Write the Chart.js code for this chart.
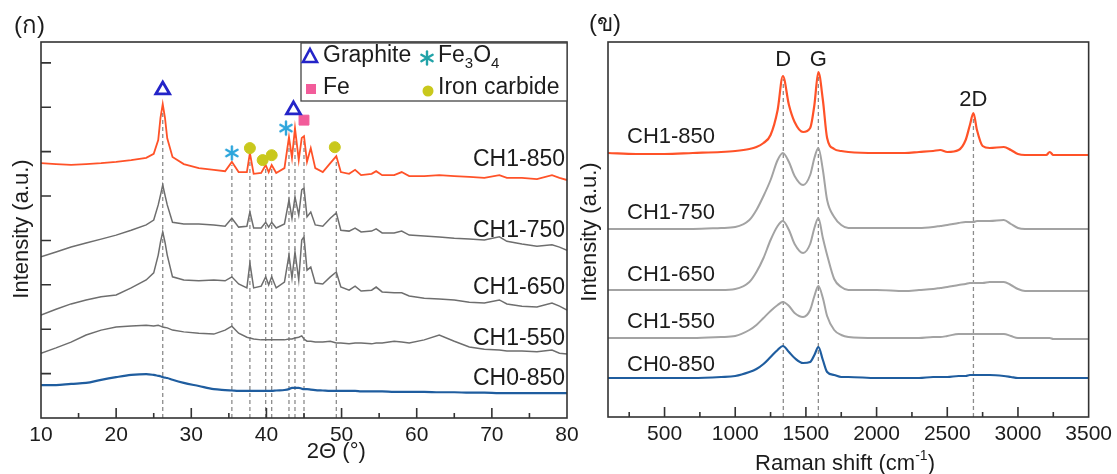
<!DOCTYPE html>
<html>
<head>
<meta charset="utf-8">
<script src="https://cdn.jsdelivr.net/npm/chart.js@4/dist/chart.umd.min.js"></script>
<style>
  body { margin: 0; background: #fff; width: 1117px; height: 474px; overflow: hidden; position: relative; }
  #wrapL { position: absolute; left: 0; top: 0; }
  #wrapR { position: absolute; left: 575px; top: 0; }
</style>
</head>
<body>
<div id="wrapL"><canvas id="xrd" width="585" height="474"></canvas></div>
<div id="wrapR"><canvas id="raman" width="542" height="474"></canvas></div>
<script>
// ---- XRD data (2 theta, intensity a.u., curves stacked) ----
const xrdX = [10,12,14,16,18,20,22,24,25,25.6,25.9,
  26.2,26.5,26.8,27.5,29,31,33,34.5,35.4,36.3,37.4,
  37.8,38.3,39.3,39.9,40.3,40.7,41.3,42.4,43.0,43.4,
  43.8,44.3,44.7,45.0,45.4,45.9,46.5,47.5,48.5,49.3,
  49.9,51,51.8,52.6,54,54.6,55.4,57,58,59,
  61,63,65,67,69,71,72,74,76,78,
  79,80];
const xrdCH1_850 = [5.74,5.72,5.70,5.72,5.74,5.77,5.81,5.86,5.95,6.26,6.76,
  7.07,6.76,6.30,5.88,5.72,5.63,5.59,5.56,5.77,5.54,5.54,
  5.97,5.50,5.52,5.70,5.54,5.70,5.52,5.63,6.33,5.86,
  6.53,5.81,6.31,6.35,5.77,6.08,5.63,5.54,5.74,5.90,
  5.54,5.50,5.59,5.47,5.50,5.56,5.47,5.47,5.54,5.45,
  5.45,5.47,5.45,5.43,5.41,5.47,5.41,5.41,5.38,5.47,
  5.41,5.36];
const xrdCH1_750 = [3.63,3.74,3.85,3.94,4.03,4.12,4.23,4.35,4.46,4.80,5.02,
  5.25,5.02,4.80,4.41,4.37,4.37,4.35,4.32,4.50,4.30,4.32,
  4.64,4.28,4.28,4.41,4.30,4.41,4.28,4.37,4.91,4.50,
  4.98,4.57,5.14,5.18,4.53,4.64,4.35,4.32,4.50,4.62,
  4.23,4.21,4.28,4.19,4.21,4.26,4.17,4.17,4.21,4.12,
  4.10,4.08,4.05,4.03,4.01,4.08,3.98,3.92,3.87,3.90,
  3.85,3.78];
const xrdCH1_650 = [2.32,2.45,2.57,2.66,2.73,2.77,2.93,3.11,3.27,3.67,3.96,
  4.19,3.96,3.67,3.18,3.11,3.09,3.11,3.09,3.18,3.02,2.93,
  3.49,2.93,2.97,3.18,3.00,3.18,2.93,3.06,3.67,3.15,
  3.74,3.11,4.01,4.08,3.33,3.40,3.04,3.02,3.18,3.29,
  2.95,2.88,2.97,2.86,2.88,2.95,2.84,2.82,2.82,2.75,
  2.70,2.68,2.66,2.61,2.59,2.66,2.57,2.52,2.50,2.59,
  2.52,2.43];
const xrdCH1_550 = [1.46,1.58,1.71,1.87,1.98,2.05,2.07,2.09,2.07,2.09,2.07,
  2.05,2.04,2.03,1.98,1.94,1.91,1.89,1.98,2.07,1.91,1.82,
  1.80,1.78,1.76,1.76,1.76,1.76,1.76,1.76,1.78,1.78,
  1.80,1.82,1.85,1.78,1.73,1.73,1.71,1.71,1.73,1.69,
  1.69,1.67,1.69,1.69,1.67,1.69,1.69,1.73,1.71,1.69,
  1.76,1.87,1.73,1.60,1.55,1.53,1.51,1.51,1.49,1.53,
  1.46,1.44];
const xrdCH0_850 = [0.74,0.74,0.77,0.79,0.86,0.92,0.97,0.99,0.97,0.95,0.94,
  0.92,0.91,0.90,0.86,0.79,0.72,0.65,0.63,0.62,0.61,0.61,
  0.61,0.61,0.61,0.61,0.61,0.61,0.62,0.63,0.65,0.68,
  0.68,0.68,0.66,0.65,0.65,0.64,0.63,0.62,0.61,0.61,
  0.61,0.61,0.61,0.60,0.60,0.60,0.60,0.59,0.59,0.59,
  0.59,0.58,0.58,0.57,0.57,0.56,0.56,0.56,0.56,0.56,
  0.56,0.56];
const xrdNames = ['CH1-850','CH1-750','CH1-650','CH1-550','CH0-850'];
const xrdLabelY = [5.81, 4.23, 2.93, 1.78, 0.88];
const xrdTicks = [10, 20, 30, 40, 50, 60, 70, 80];

// reference lines and phase markers
const xrdPeaks = [26.2, 35.4, 37.8, 39.9, 40.7, 43.0, 43.8, 45.0, 49.3];
const xrdPeakTop = [6.95, 5.7, 5.9, 5.65, 5.65, 6.3, 6.5, 6.3, 5.85];
const graphiteX = [26.2, 43.6], graphiteY = [7.39, 6.94];
const fe3o4X = [35.4, 42.6], fe3o4Y = [5.97, 6.53];
const carbideX = [37.8, 39.5, 40.7, 49.1], carbideY = [6.08, 5.81, 5.92, 6.10];
const feX = [45.0], feY = [6.71];

// ---- Raman data ----
const ramanX = [100,300,500,700,900,1000,1100,1150,1200,1250,
  1300,1337,1380,1420,1480,1530,1560,1588,1620,1650,
  1700,1750,1800,2000,2200,2300,2400,2450,2500,2580,
  2630,2660,2685,2710,2750,2800,2900,2950,3000,3050,
  3100,3200,3225,3250,3350,3500];
const ramCH1_850 = [264,263,263,264,265,266,268,270,274,282,
  307,341,312,295,285,289,312,345,317,279,
  268,266,265,264,264,265,266,267,265,267,
  277,292,304,287,271,269,270,267,263,262,
  262,262,265,262,262,262];
const ramCH1_750 = [188,188,188,188,189,190,197,207,221,237,
  257,264,255,241,232,242,259,269,247,217,
  200,192,189,189,189,189,190,191,192,194,
  195,195,195,196,196,196,197,193,189,188,
  188,188,188,188,188,188];
const ramCH1_650 = [127,127,127,127,127,128,135,145,159,177,
  191,196,187,173,164,173,189,199,179,162,
  138,130,127,127,126,127,128,129,130,132,
  133,134,134,134,134,135,135,132,128,126,
  126,126,126,126,126,126];
const ramCH1_550 = [79,79,79,79,80,81,87,92,99,106,
  112,115,111,104,100,107,121,131,119,101,
  87,82,80,79,79,79,80,80,81,83,
  83,83,83,83,83,83,83,81,79,79,
  79,79,79,78,78,78];
const ramCH0_850 = [39,39,39,39,40,41,45,48,53,60,
  67,71,65,59,54,55,62,70,57,45,
  42,40,40,39,39,39,40,40,40,41,
  41,42,42,42,42,42,41,40,39,39,
  39,39,39,39,39,39];
const ramLabelY = [280, 204, 142, 95, 52];
const ramPeaks = [1340, 1588, 2685];
const ramPeakTop = [338, 342, 300];
const ramPeakNames = ['D', 'G', '2D'];
const ramPeakLabelY = [357, 357, 317];
const ramTicks = [500, 1000, 1500, 2000, 2500, 3000, 3500];

const FONT = '"Liberation Sans", Arial, sans-serif';
const TXT = '#1c1c1c';
const ORANGE = '#ff5228';
const BLUE = '#1f5d9f';
const GREY_L = '#6e6e6e';
const GREY_R = '#a3a3a3';

function pts(xs, ys) { return xs.map((x, i) => ({ x: x, y: ys[i] })); }

function asterisk(color, r, lw) {
  const c = document.createElement('canvas');
  const s = Math.ceil(2 * r + 2 * lw);
  c.width = s; c.height = s;
  const g = c.getContext('2d');
  g.strokeStyle = color; g.lineWidth = lw; g.lineCap = 'round';
  for (let k = 0; k < 3; k++) {
    const a = Math.PI / 2 + k * Math.PI / 3;
    g.beginPath();
    g.moveTo(s / 2 + r * Math.cos(a), s / 2 - r * Math.sin(a));
    g.lineTo(s / 2 - r * Math.cos(a), s / 2 + r * Math.sin(a));
    g.stroke();
  }
  return c;
}
const starPlot = asterisk('#2ea6dc', 6.5, 2.4);
const starLegend = asterisk('#22a3a8', 6.5, 2.4);

function curve(data, color, w, smooth) {
  return { data: data, borderColor: color, borderWidth: w, pointRadius: 0,
    cubicInterpolationMode: smooth ? 'monotone' : 'default', tension: 0, order: 1 };
}
function dashed(x, top) {
  return { data: [{ x: x, y: 0 }, { x: x, y: top }], borderColor: '#8c8c8c', borderWidth: 1.3,
    borderDash: [4, 3], pointRadius: 0, order: 5 };
}
function markers(data, style, radius, fill, stroke, bw) {
  return { data: data, showLine: false, pointStyle: style, pointRadius: radius,
    pointBackgroundColor: fill, pointBorderColor: stroke, pointBorderWidth: bw, order: 0 };
}

function frameTicks(ctx, area, xs, ys, xMajor, xMinor, yTicks) {
  ctx.save();
  ctx.strokeStyle = '#333';
  ctx.lineWidth = 1.6;
  ctx.strokeRect(area.left, area.top, area.right - area.left, area.bottom - area.top);
  ctx.beginPath();
  xMajor.forEach(v => { const p = xs.getPixelForValue(v); ctx.moveTo(p, area.bottom); ctx.lineTo(p, area.bottom - 10); });
  xMinor.forEach(v => { const p = xs.getPixelForValue(v); ctx.moveTo(p, area.bottom); ctx.lineTo(p, area.bottom - 5); });
  yTicks.forEach(v => { const p = ys.getPixelForValue(v); ctx.moveTo(area.left, p); ctx.lineTo(area.left + 10, p); });
  ctx.stroke();
  ctx.restore();
}

function rotatedText(ctx, text, x, y, size) {
  ctx.save();
  ctx.translate(x, y);
  ctx.rotate(-Math.PI / 2);
  ctx.font = size + 'px ' + FONT;
  ctx.fillStyle = TXT;
  ctx.textAlign = 'center';
  ctx.textBaseline = 'middle';
  ctx.fillText(text, 0, 0);
  ctx.restore();
}

const xrdDecor = {
  id: 'xrdDecor',
  afterDraw(chart) {
    const ctx = chart.ctx, a = chart.chartArea, xs = chart.scales.x, ys = chart.scales.y;
    const major = [20, 30, 40, 50, 60, 70], minor = [15, 25, 35, 45, 55, 65, 75];
    frameTicks(ctx, a, xs, ys, major, minor, [1, 2, 3, 4, 5, 6, 7, 8]);
    ctx.save();
    ctx.fillStyle = TXT;
    ctx.font = '23px ' + FONT;
    ctx.textAlign = 'right';
    ctx.textBaseline = 'middle';
    xrdNames.forEach((n, i) => ctx.fillText(n, a.right - 2, ys.getPixelForValue(xrdLabelY[i])));

    // legend box
    const bx = 301, by = 43, bw = a.right - 301, bh = 58;
    ctx.fillStyle = '#fff';
    ctx.fillRect(bx, by, bw, bh);
    ctx.strokeStyle = '#444';
    ctx.lineWidth = 1.3;
    ctx.strokeRect(bx, by, bw, bh);
    ctx.fillStyle = TXT;
    ctx.textAlign = 'left';
    ctx.font = '23px ' + FONT;
    const r1 = 56, r2 = 88;
    ctx.strokeStyle = '#2424c8';
    ctx.lineWidth = 2.6;
    ctx.beginPath();
    ctx.moveTo(310, r1 - 7); ctx.lineTo(317, r1 + 6); ctx.lineTo(303, r1 + 6); ctx.closePath();
    ctx.stroke();
    ctx.fillText('Graphite', 323, r1);
    ctx.drawImage(starLegend, 427 - starLegend.width / 2, r1 + 2 - starLegend.height / 2);
    let tx = 438;
    ctx.fillText('Fe', tx, r1); tx += ctx.measureText('Fe').width;
    ctx.font = '15px ' + FONT; ctx.fillText('3', tx, r1 + 8); tx += ctx.measureText('3').width;
    ctx.font = '23px ' + FONT; ctx.fillText('O', tx, r1); tx += ctx.measureText('O').width;
    ctx.font = '15px ' + FONT; ctx.fillText('4', tx, r1 + 8);
    ctx.font = '23px ' + FONT;
    ctx.fillStyle = '#f25c9a';
    ctx.fillRect(306, r2 - 4, 10, 10);
    ctx.fillStyle = TXT;
    ctx.fillText('Fe', 323, r2);
    ctx.fillStyle = '#c9c81c';
    ctx.beginPath(); ctx.arc(428, r2 + 3, 5.5, 0, Math.PI * 2); ctx.fill();
    ctx.fillStyle = TXT;
    ctx.fillText('Iron carbide', 438, r2);

    ctx.font = '22px ' + FONT;
    ctx.textAlign = 'center';
    ctx.fillText('2\u0398 (\u00b0)', xs.getPixelForValue(49.3), 452);
    ctx.font = '24px ' + FONT;
    ctx.textAlign = 'left';
    ctx.fillText('(\u0e01)', 14, 26);
    ctx.restore();
    rotatedText(ctx, 'Intensity (a.u.)', 22, 229, 22);
  }
};

const ramanDecor = {
  id: 'ramanDecor',
  afterDraw(chart) {
    const ctx = chart.ctx, a = chart.chartArea, xs = chart.scales.x, ys = chart.scales.y;
    const major = [500, 1000, 1500, 2000, 2500, 3000], minor = [250, 750, 1250, 1750, 2250, 2750, 3250];
    frameTicks(ctx, a, xs, ys, major, minor, []);
    ctx.save();
    ctx.fillStyle = TXT;
    ctx.font = '22px ' + FONT;
    ctx.textAlign = 'left';
    ctx.textBaseline = 'middle';
    xrdNames.forEach((n, i) => ctx.fillText(n, a.left + 19, ys.getPixelForValue(ramLabelY[i])));
    ctx.textAlign = 'center';
    ramPeakNames.forEach((n, i) => ctx.fillText(n, xs.getPixelForValue(ramPeaks[i]), ys.getPixelForValue(ramPeakLabelY[i])));
    const base = 'Raman shift (cm', sup = '-1', end = ')';
    ctx.font = '22px ' + FONT;
    const w1 = ctx.measureText(base).width, w3 = ctx.measureText(end).width;
    ctx.font = '14px ' + FONT;
    const w2 = ctx.measureText(sup).width;
    let tx = 270 - (w1 + w2 + w3) / 2;
    ctx.textAlign = 'left';
    ctx.font = '22px ' + FONT; ctx.fillText(base, tx, 464); tx += w1;
    ctx.font = '14px ' + FONT; ctx.fillText(sup, tx, 456); tx += w2;
    ctx.font = '22px ' + FONT; ctx.fillText(end, tx, 464);
    ctx.font = '24px ' + FONT;
    ctx.fillText('(\u0e02)', 14, 24);
    ctx.restore();
    rotatedText(ctx, 'Intensity (a.u.)', 15, 232, 22);
  }
};

function baseOptions(xmin, xmax, tickList, ymax, yWidth, xHeight, padRight) {
  return {
    responsive: false,
    animation: false,
    layout: { padding: { left: 0, right: padRight, top: 42, bottom: 0 } },
    plugins: { legend: { display: false }, tooltip: { enabled: false } },
    scales: {
      x: {
        type: 'linear', min: xmin, max: xmax,
        afterBuildTicks: s => { s.ticks = tickList.map(v => ({ value: v })); },
        ticks: { color: TXT, font: { family: FONT, size: 21 }, padding: 5, maxRotation: 0,
          autoSkip: false, callback: v => String(v) },
        grid: { display: false, drawTicks: false },
        border: { display: false },
        afterFit: s => { s.height = xHeight; }
      },
      y: {
        min: 0, max: ymax,
        ticks: { display: false },
        grid: { display: false, drawTicks: false },
        border: { display: false },
        afterFit: s => { s.width = yWidth; }
      }
    }
  };
}

const xrdSets = [
  curve(pts(xrdX, xrdCH0_850), BLUE, 2.2, true),
  curve(pts(xrdX, xrdCH1_550), GREY_L, 1.5, false),
  curve(pts(xrdX, xrdCH1_650), GREY_L, 1.5, false),
  curve(pts(xrdX, xrdCH1_750), GREY_L, 1.5, false),
  curve(pts(xrdX, xrdCH1_850), ORANGE, 1.8, false)
];
xrdPeaks.forEach((p, i) => xrdSets.push(dashed(p, xrdPeakTop[i])));
xrdSets.push(markers(pts(graphiteX, graphiteY), 'triangle', 8, 'rgba(0,0,0,0)', '#2424c8', 2.8));
xrdSets.push(markers(pts(fe3o4X, fe3o4Y), starPlot, 6, '#2ea6dc', '#2ea6dc', 1));
xrdSets.push(markers(pts(carbideX, carbideY), 'circle', 5.5, '#c9c81c', '#c9c81c', 1));
xrdSets.push(markers(pts(feX, feY), 'rect', 7, '#f25c9a', '#f25c9a', 1));

new Chart(document.getElementById('xrd'), {
  type: 'line',
  data: { datasets: xrdSets },
  options: baseOptions(10, 80, xrdTicks, 8.47, 41, 56, 18),
  plugins: [xrdDecor]
});

const ramSets = [
  curve(pts(ramanX, ramCH0_850), BLUE, 2.2, true),
  curve(pts(ramanX, ramCH1_550), GREY_R, 2, true),
  curve(pts(ramanX, ramCH1_650), GREY_R, 2, true),
  curve(pts(ramanX, ramCH1_750), GREY_R, 2, true),
  curve(pts(ramanX, ramCH1_850), ORANGE, 2.2, true)
];
ramPeaks.forEach((p, i) => ramSets.push(dashed(p, ramPeakTop[i])));

new Chart(document.getElementById('raman'), {
  type: 'line',
  data: { datasets: ramSets },
  options: baseOptions(100, 3500, ramTicks, 375, 33, 57, 27),
  plugins: [ramanDecor]
});
</script>
</body>
</html>
